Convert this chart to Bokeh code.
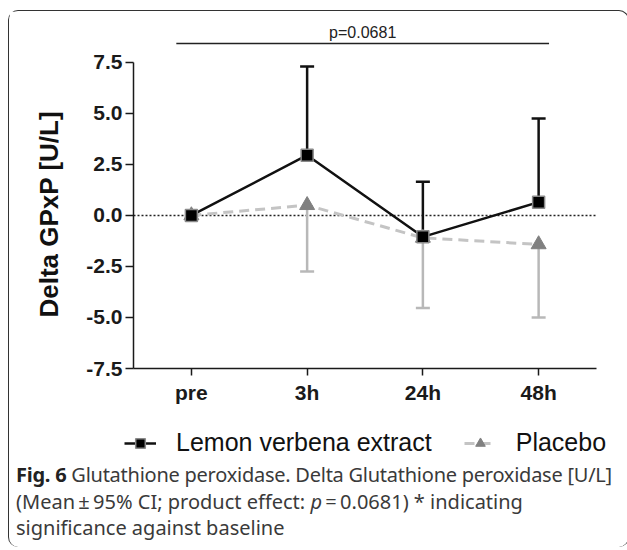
from bokeh.plotting import figure
from bokeh.models import (ColumnDataSource, Whisker, Span, Legend, LegendItem,
                          FixedTicker, Div, TeeHead, Range1d, Title)
from bokeh.layouts import column
from bokeh.embed import file_html
from bokeh.resources import INLINE
from bokeh.core.properties import value

# ---------------- data ----------------
categories = ["pre", "3h", "24h", "48h"]
xpos = [0, 1, 2, 3]
lemon_mean = [0.0, 2.95, -1.05, 0.65]
lemon_upper = [0.0, 7.3, 1.65, 4.75]
placebo_mean = [0.0, 0.5, -1.1, -1.42]
placebo_lower = [0.0, -2.75, -4.53, -5.0]
ytick_values = [-7.5, -5.0, -2.5, 0.0, 2.5, 5.0, 7.5]
ytick_labels = ["-7.5", "-5.0", "-2.5", "0.0", "2.5", "5.0", "7.5"]
series_names = ["Lemon verbena extract", "Placebo"]
y_label = "Delta GPxP [U/L]"
p_text = "p=0.0681"
p_bracket_x = [-0.13, 3.09]
p_bracket_y = 8.42
p_text_x = 1.48
p_text_y = 8.95
cap_bold = "Fig. 6"
cap_line1 = "Glutathione peroxidase. Delta Glutathione peroxidase [U/L]"
cap_line2a = "(Mean\u2009\u00b1\u200995% CI; product effect: "
cap_line2b = "p"
cap_line2c = "\u2009=\u20090.0681) * indicating"
cap_line3 = "significance against baseline"

FONT = "Liberation Sans"

# style settings
LEMON = dict(line_color="#111111", line_width=2.5)
LEMON_MK = dict(marker="square", size=12, fill_color="#000000",
                line_color="#8a8a8a", line_width=1.5)
PLAC = dict(line_color="#c4c4c4", line_width=3, line_dash="10 6")
PLAC_MK = dict(marker="triangle", size=15, fill_color="#808080",
               line_color="#808080", line_width=1)

p = figure(width=609, height=402, output_backend="svg",
           toolbar_location=None,
           x_range=Range1d(-0.5, 3.5), y_range=Range1d(-7.5, 9.5),
           min_border_left=124, min_border_right=22, min_border_top=10,
           min_border_bottom=45)
p.outline_line_color = None
p.xgrid.visible = False
p.ygrid.visible = False
p.background_fill_color = "white"
p.border_fill_color = "white"

# axes
xa = p.xaxis[0]
xa.ticker = FixedTicker(ticks=xpos)
xa.major_label_overrides = {x: c for x, c in zip(xpos, categories)}
xa.minor_tick_line_color = None
xa.major_tick_in = 0
xa.major_tick_out = 7
xa.axis_line_width = 1.5
xa.axis_line_color = "#1a1a1a"
xa.major_tick_line_width = 1.5
xa.major_tick_line_color = "#1a1a1a"
xa.major_label_text_font = FONT
xa.major_label_text_font_style = "bold"
xa.major_label_text_font_size = "21px"
xa.major_label_text_color = "#1a1a1a"
xa.major_label_standoff = 5

ya = p.yaxis[0]
ya.ticker = FixedTicker(ticks=ytick_values)
ya.major_label_overrides = {v: s for v, s in zip(ytick_values, ytick_labels)}
ya.bounds = (ytick_values[0], ytick_values[-1])
ya.minor_tick_line_color = None
ya.major_tick_in = 0
ya.major_tick_out = 8
ya.axis_line_width = 1.5
ya.axis_line_color = "#1a1a1a"
ya.major_tick_line_width = 1.5
ya.major_tick_line_color = "#1a1a1a"
ya.major_label_text_font = FONT
ya.major_label_text_font_style = "bold"
ya.major_label_text_font_size = "21px"
ya.major_label_text_color = "#1a1a1a"
ya.major_label_standoff = 3

# y-axis title, centred on the axis extent (not the whole frame)
p.add_layout(Title(text=y_label, align="left", offset=51, standoff=40,
                   vertical_align="bottom", text_font=FONT,
                   text_font_style="bold", text_font_size="26px",
                   text_color="#111111"), "left")

# zero line
p.add_layout(Span(location=0, dimension="width", line_color="#222222",
                  line_dash="2 2", line_width=1.5, level="underlay"))

# error bars (one-sided)
pl_err = ColumnDataSource(dict(x=xpos[1:], lower=placebo_lower[1:], upper=placebo_mean[1:]))
le_err = ColumnDataSource(dict(x=xpos[1:], lower=lemon_mean[1:], upper=lemon_upper[1:]))
p.add_layout(Whisker(base="x", lower="lower", upper="upper", source=pl_err,
                     dimension="height", line_color="#b8b8b8", line_width=2.5,
                     lower_head=TeeHead(size=14, line_color="#b8b8b8", line_width=2.5),
                     upper_head=None, level="underlay"))
p.add_layout(Whisker(base="x", lower="lower", upper="upper", source=le_err,
                     dimension="height", line_color="#111111", line_width=2.5,
                     upper_head=TeeHead(size=14, line_color="#111111", line_width=2.5),
                     lower_head=None, level="underlay"))

pl_src = ColumnDataSource(dict(x=xpos, y=placebo_mean))
le_src = ColumnDataSource(dict(x=xpos, y=lemon_mean))

p.line("x", "y", source=pl_src, **PLAC)
p.scatter("x", "y", source=pl_src, **PLAC_MK)
p.line("x", "y", source=le_src, **LEMON)
p.scatter("x", "y", source=le_src, **LEMON_MK)

# p-value bracket
p.line(x=p_bracket_x, y=[p_bracket_y, p_bracket_y], line_color="#222222", line_width=1.5)
p.text(x=[p_text_x], y=[p_text_y], text=[p_text], text_align="center",
       text_baseline="middle", text_font=value(FONT), text_font_size="16px",
       text_color="#222222")

# ---- legend strip (same series drawn off-view so only the legend shows) ----
lg = figure(width=609, height=44, output_backend="svg", toolbar_location=None,
            x_range=Range1d(-0.5, 3.5), y_range=Range1d(100, 101),
            min_border=0, x_axis_location=None, y_axis_location=None)
lg.frame_align = False
lg.outline_line_color = None
lg.xgrid.visible = False
lg.ygrid.visible = False
lgl_le = lg.line("x", "y", source=le_src, **LEMON)
lgs_le = lg.scatter("x", "y", source=le_src, **LEMON_MK)
lgl_pl = lg.line("x", "y", source=pl_src, **PLAC)
lgs_pl = lg.scatter("x", "y", source=pl_src, **PLAC_MK)
legend = Legend(items=[LegendItem(label=series_names[0], renderers=[lgl_le, lgs_le]),
                       LegendItem(label=series_names[1], renderers=[lgl_pl, lgs_pl])],
                orientation="horizontal", location=(115, 0),
                label_text_font=FONT, label_text_font_size="25px",
                label_text_color="#111111",
                glyph_width=32, glyph_height=24, label_standoff=20, spacing=32,
                border_line_color=None, background_fill_alpha=0,
                margin=0, padding=0)
lg.add_layout(legend, "center")

LINE = 'line-height:26.5px;'
caption_html = (
    '<div style="font-family:\'Noto Sans\';font-size:20px;color:#3a3a3a;'
    'padding:0 13px 0 2px;">'
    '<div style="' + LINE + 'text-align:justify;text-align-last:justify;'
    'letter-spacing:-0.25px;white-space:nowrap;">'
    '<b style="color:#222">' + cap_bold + '</b> ' + cap_line1 + '</div>'
    '<div style="' + LINE + '">' + cap_line2a + '<i>' + cap_line2b + '</i>'
    + cap_line2c + '</div>'
    '<div style="' + LINE + '">' + cap_line3 + '</div></div>'
)
cap = Div(text=caption_html, width=609, height=80)

layout = column(p, lg, cap, spacing=0,
                styles={"border": "1.5px solid #333333",
                        "border-bottom": "none",
                        "border-radius": "10px",
                        "margin-left": "8px",
                        "margin-top": "10px"})

open("out.html", "w").write(file_html(layout, INLINE))
